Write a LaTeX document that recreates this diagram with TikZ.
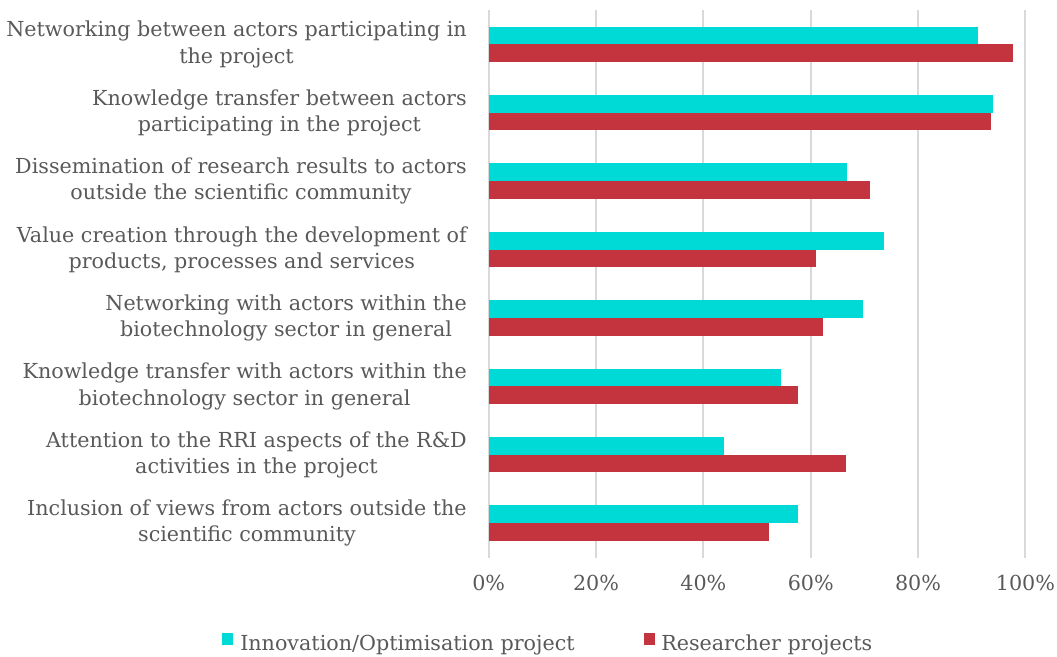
\documentclass[tikz,border=0pt]{standalone}
\usepackage{fontspec}
\setmainfont{DejaVu Serif}

\begin{document}
\begin{tikzpicture}[x=0.75pt,y=-0.75pt]
    % Define colors
    \definecolor{innocyan}{RGB}{0,218,214}
    \definecolor{researchred}{RGB}{195,52,62}
    \definecolor{gridgray}{RGB}{217,217,217}
    \definecolor{textgray}{RGB}{89,89,89}

    \tikzset{
        catlabel/.style={anchor=east, align=center, inner sep=0pt, text=textgray,
                         font=\fontsize{15.5}{19.8}\selectfont},
        ticklabel/.style={inner sep=0pt, text=textgray, font=\fontsize{15.5}{19.8}\selectfont},
        legendlabel/.style={anchor=base west, inner sep=0pt, text=textgray,
                            font=\fontsize{15.5}{19.8}\selectfont},
        gridline/.style={gridgray, line width=1.5pt}
    }

    \useasboundingbox (0,0) rectangle (1057,657);

    \def\zero{488.7}
    \def\pct{5.367}
    \def\barh{17.7}

    % Grid lines and tick labels
    \foreach \p in {0,20,...,100} {
        \draw[gridline] ({\zero+\pct*\p},10) -- ({\zero+\pct*\p},558);
        \node[ticklabel] (tick\p) at ({\zero+\pct*\p},583) {\p\%};
    }

    % Bars: Innovation/Optimisation project (top), Researcher projects (bottom)
    \fill[innocyan]    (\zero,26.6)  rectangle ({\zero+\pct*91.2},44.3);
    \fill[researchred] (\zero,44.3)  rectangle ({\zero+\pct*97.7},62.0);
    \fill[innocyan]    (\zero,95.0)  rectangle ({\zero+\pct*94.0},112.7);
    \fill[researchred] (\zero,112.7) rectangle ({\zero+\pct*93.5},130.4);
    \fill[innocyan]    (\zero,163.4) rectangle ({\zero+\pct*66.7},181.1);
    \fill[researchred] (\zero,181.1) rectangle ({\zero+\pct*71.1},198.8);
    \fill[innocyan]    (\zero,231.8) rectangle ({\zero+\pct*73.6},249.5);
    \fill[researchred] (\zero,249.5) rectangle ({\zero+\pct*60.9},267.2);
    \fill[innocyan]    (\zero,300.2) rectangle ({\zero+\pct*69.7},317.9);
    \fill[researchred] (\zero,317.9) rectangle ({\zero+\pct*62.3},335.6);
    \fill[innocyan]    (\zero,368.6) rectangle ({\zero+\pct*54.4},386.3);
    \fill[researchred] (\zero,386.3) rectangle ({\zero+\pct*57.6},404.0);
    \fill[innocyan]    (\zero,437.0) rectangle ({\zero+\pct*43.8},454.7);
    \fill[researchred] (\zero,454.7) rectangle ({\zero+\pct*66.6},472.4);
    \fill[innocyan]    (\zero,505.4) rectangle ({\zero+\pct*57.6},523.1);
    \fill[researchred] (\zero,523.1) rectangle ({\zero+\pct*52.3},540.8);

    % Category labels
    \node[catlabel] (netproj) at (467,44.3)  {Networking between actors participating in\\the project};
    \node[catlabel] (ktproj)  at (467,112.7) {Knowledge transfer between actors\\participating in the project};
    \node[catlabel] (dissem)  at (467,181.1) {Dissemination of research results to actors\\outside the scientific community};
    \node[catlabel] (value)   at (467,249.5) {Value creation through the development of\\products, processes and services};
    \node[catlabel] (netsect) at (467,317.9) {Networking with actors within the\\biotechnology sector in general};
    \node[catlabel] (ktsect)  at (467,386.3) {Knowledge transfer with actors within the\\biotechnology sector in general};
    \node[catlabel] (rri)     at (467,454.7) {Attention to the RRI aspects of the R\&D\\activities in the project};
    \node[catlabel] (views)   at (467,523.1) {Inclusion of views from actors outside the\\scientific community};

    % Legend
    \fill[innocyan]    (222,633) rectangle (233,645);
    \node[legendlabel] (leginno) at (240,650) {Innovation/Optimisation project};
    \fill[researchred] (644,633) rectangle (655,645);
    \node[legendlabel] (legres)  at (661,650) {Researcher projects};
\end{tikzpicture}
\end{document}
